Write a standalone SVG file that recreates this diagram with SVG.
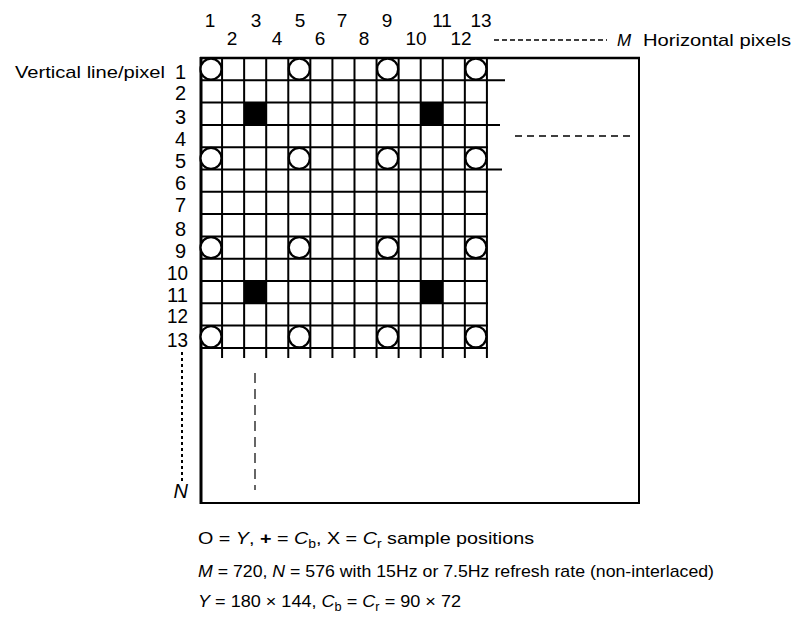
<svg xmlns="http://www.w3.org/2000/svg" width="797" height="628" viewBox="0 0 797 628">
<style>
text{font-family:"Liberation Sans",Arial,sans-serif;fill:#000}
.num{font-size:19px;text-anchor:middle}
.rn{font-size:20px;text-anchor:end}
.lbl{font-size:17px}
.it{font-style:italic}
.g{stroke:#000;stroke-width:2;fill:none}
.frame{stroke:#000;fill:none}
.y{fill:#fff;stroke:#000;stroke-width:2.2}
.sq{fill:#000}
.dash{stroke:#000;fill:none}
</style>
<rect width="797" height="628" fill="#fff"/>
<g id="frame">
<line class="frame" x1="200" y1="58" x2="640" y2="58" stroke-width="2.6"/>
<line class="frame" x1="201" y1="57" x2="201" y2="504" stroke-width="3"/>
<line class="frame" x1="639" y1="57" x2="639" y2="504" stroke-width="2"/>
<line class="frame" x1="200" y1="503" x2="640" y2="503" stroke-width="2"/>
</g>
<g id="grid" class="g">
<path d="M222.07 58V358M244.14 58V358M266.21 58V358M288.28 58V358M310.35 58V358M332.42 58V358M354.49 58V358M376.56 58V358M398.63 58V358M420.7 58V358M442.77 58V358M464.84 58V358M486.91 58V358"/>
<path d="M200 80.3H505M200 102.6H488M200 124.9H500M200 147.2H488M200 169.5H502M200 191.8H488M200 214.1H488M200 236.4H488M200 258.7H488M200 281H488M200 303.3H488M200 325.6H488M200 347.9H488"/>
</g>
<g id="cr-samples">
<rect class="sq" x="244.14" y="102.6" width="22.07" height="22.3"/>
<rect class="sq" x="420.7" y="102.6" width="22.07" height="22.3"/>
<rect class="sq" x="244.14" y="281" width="22.07" height="22.3"/>
<rect class="sq" x="420.7" y="281" width="22.07" height="22.3"/>
</g>
<g id="y-samples">
<circle class="y" cx="211" cy="69.15" r="10.5"/><circle class="y" cx="299.3" cy="69.15" r="10.5"/><circle class="y" cx="387.6" cy="69.15" r="10.5"/><circle class="y" cx="475.9" cy="69.15" r="10.5"/>
<circle class="y" cx="211" cy="158.35" r="10.5"/><circle class="y" cx="299.3" cy="158.35" r="10.5"/><circle class="y" cx="387.6" cy="158.35" r="10.5"/><circle class="y" cx="475.9" cy="158.35" r="10.5"/>
<circle class="y" cx="211" cy="247.55" r="10.5"/><circle class="y" cx="299.3" cy="247.55" r="10.5"/><circle class="y" cx="387.6" cy="247.55" r="10.5"/><circle class="y" cx="475.9" cy="247.55" r="10.5"/>
<circle class="y" cx="211" cy="336.75" r="10.5"/><circle class="y" cx="299.3" cy="336.75" r="10.5"/><circle class="y" cx="387.6" cy="336.75" r="10.5"/><circle class="y" cx="475.9" cy="336.75" r="10.5"/>
</g>
<g id="dashes">
<line class="dash" x1="494" y1="40" x2="607" y2="40" stroke-width="1.5" stroke-dasharray="5 3"/>
<line class="dash" x1="515" y1="136" x2="632" y2="136" stroke-width="1.6" stroke-dasharray="7 5"/>
<line class="dash" x1="255" y1="373" x2="255" y2="490" stroke-width="1.2" stroke-dasharray="10 6"/>
<line class="dash" x1="182" y1="352" x2="182" y2="482" stroke-width="2" stroke-dasharray="3 3"/>
</g>
<g id="col-labels">
<text class="num" x="210" y="27">1</text>
<text class="num" x="232" y="45">2</text>
<text class="num" x="256" y="27">3</text>
<text class="num" x="277" y="45">4</text>
<text class="num" x="300" y="27">5</text>
<text class="num" x="320" y="45">6</text>
<text class="num" x="342" y="27">7</text>
<text class="num" x="364" y="45">8</text>
<text class="num" x="387" y="27">9</text>
<text class="num" x="416" y="45">10</text>
<text class="num" x="442" y="27">11</text>
<text class="num" x="461" y="45">12</text>
<text class="num" x="481" y="27">13</text>
<text class="lbl" x="617" y="46" font-size="18"><tspan class="it">M</tspan></text>
<text class="lbl" x="643" y="46" textLength="148" lengthAdjust="spacingAndGlyphs">Horizontal pixels</text>
</g>
<g id="row-labels">
<text class="lbl" x="15" y="78" textLength="150" lengthAdjust="spacingAndGlyphs">Vertical line/pixel</text>
<text class="rn" x="186" y="79">1</text>
<text class="rn" x="186" y="100">2</text>
<text class="rn" x="186" y="124">3</text>
<text class="rn" x="186" y="146">4</text>
<text class="rn" x="186" y="168">5</text>
<text class="rn" x="186" y="190">6</text>
<text class="rn" x="186" y="212">7</text>
<text class="rn" x="186" y="236">8</text>
<text class="rn" x="186" y="258">9</text>
<text class="rn" x="188" y="280" textLength="21" lengthAdjust="spacingAndGlyphs">10</text>
<text class="rn" x="188" y="302" textLength="21" lengthAdjust="spacingAndGlyphs">11</text>
<text class="rn" x="188" y="323" textLength="21" lengthAdjust="spacingAndGlyphs">12</text>
<text class="rn" x="188" y="347" textLength="21" lengthAdjust="spacingAndGlyphs">13</text>
<text class="rn it" x="188" y="498" font-size="20">N</text>
</g>
<g id="legend">
<text class="lbl" x="198" y="544" textLength="336" lengthAdjust="spacingAndGlyphs">O = <tspan class="it">Y</tspan>, <tspan font-weight="bold">+</tspan> = <tspan class="it">C</tspan><tspan font-size="12" dy="4">b</tspan><tspan dy="-4">, X = </tspan><tspan class="it">C</tspan><tspan font-size="12" dy="4">r</tspan><tspan dy="-4"> sample positions</tspan></text>
<text class="lbl" x="198" y="577" textLength="516" lengthAdjust="spacingAndGlyphs"><tspan class="it">M</tspan> = 720, <tspan class="it">N</tspan> = 576 with 15Hz or 7.5Hz refresh rate (non-interlaced)</text>
<text class="lbl" x="198" y="607" textLength="263" lengthAdjust="spacingAndGlyphs"><tspan class="it">Y</tspan> = 180 × 144, <tspan class="it">C</tspan><tspan font-size="12" dy="4">b</tspan><tspan dy="-4"> = </tspan><tspan class="it">C</tspan><tspan font-size="12" dy="4">r</tspan><tspan dy="-4"> = 90 × 72</tspan></text>
</g>
</svg>
